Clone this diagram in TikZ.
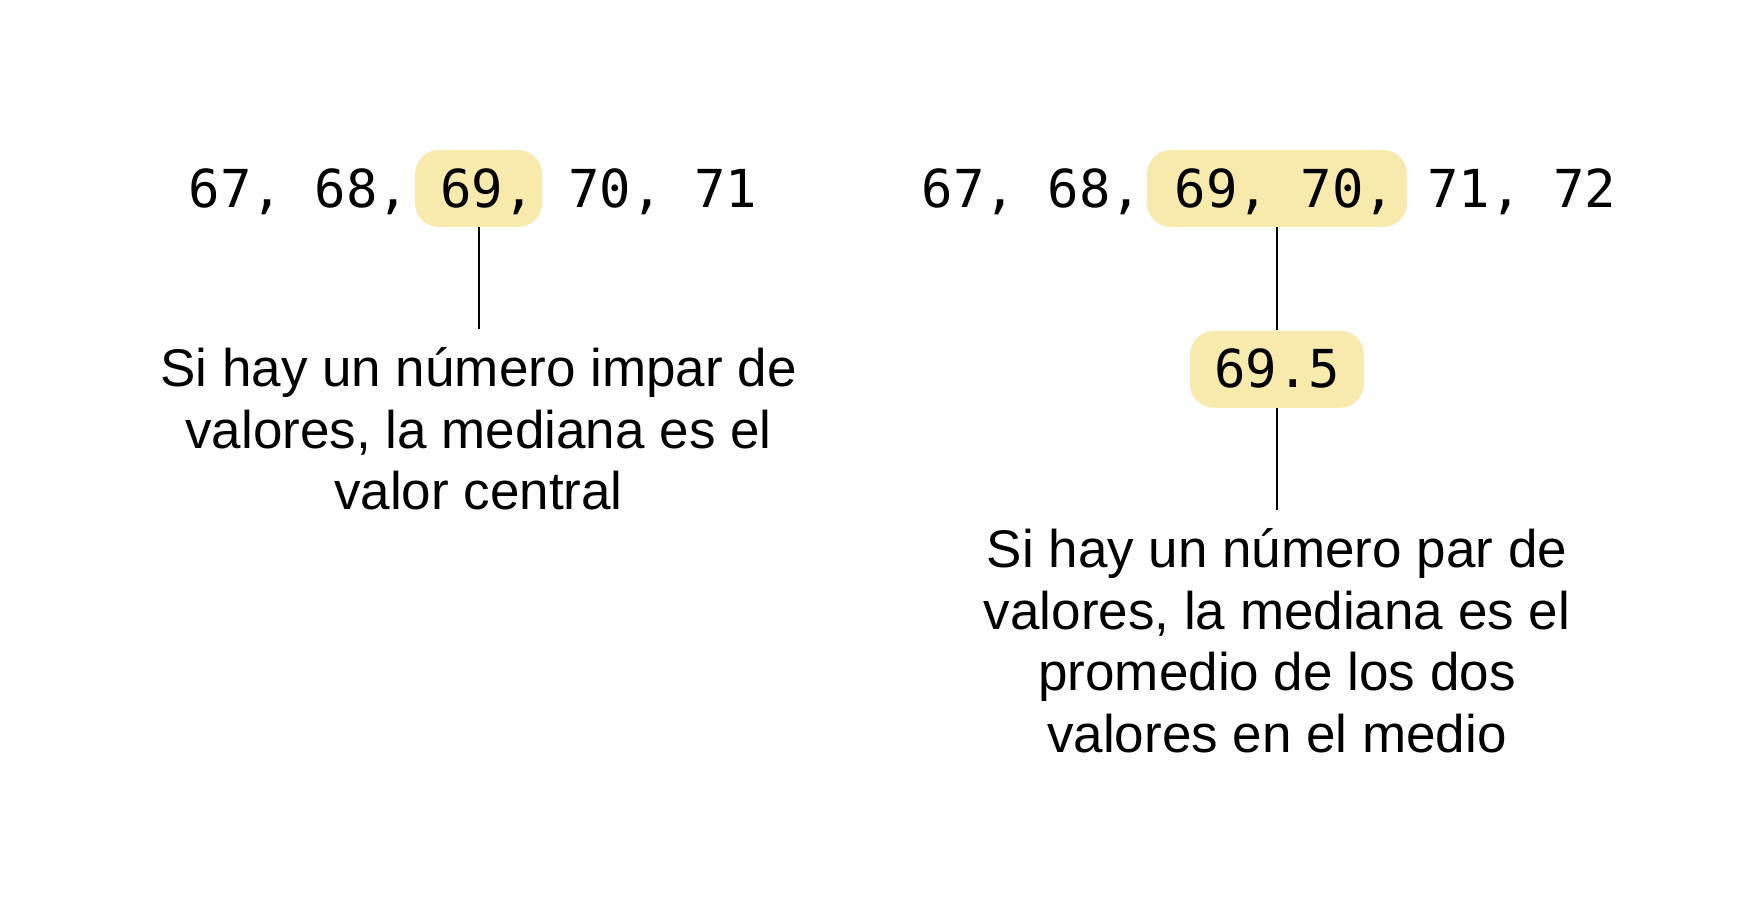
\documentclass[tikz,border=0pt]{standalone}
\usepackage{fontspec}
\setmainfont{Liberation Sans}
\newfontfamily\numfont{DejaVu Sans Mono}
\usepackage{tikz}
\usetikzlibrary{positioning}
\definecolor{medianyellow}{RGB}{248,234,172}
\tikzset{
  stem/.style={black, line width=1pt},
  nums/.style={inner sep=0pt, font=\numfont\fontsize{26.15}{31}\selectfont},
  pick/.style={nums, fill=medianyellow, rounded corners=12pt,
               text height=28.5pt, text depth=10pt},
  note/.style={inner xsep=0pt, inner ysep=9pt, align=center,
               font=\fontsize{26.5}{30.75}\selectfont},
}

\begin{document}
\begin{tikzpicture}[x=0.5pt,y=-0.5pt]
  \path[use as bounding box] (0,0) rectangle (1758,915);

  % odd number of values
  \node[pick, minimum width=63.5pt, anchor=base] (odd) at (478.5,207) {\hspace*{9pt}69,};
  \node[nums, anchor=base east] (oddleft) at ([xshift=-2.5pt]odd.base west) {67, 68,};
  \node[nums, anchor=base west] (oddright) at ([xshift=12.75pt]odd.base east) {70, 71};
  \node[note, below=51pt of odd] (oddnote)
    {Si hay un número impar de\\valores, la mediana es el\\valor central};
  \draw[stem] (odd.south) -- (oddnote.north);

  % even number of values
  \node[pick, minimum width=130pt, anchor=base] (even) at (1277,207) {\hspace*{8pt}69, 70,};
  \node[nums, anchor=base east] (evenleft) at ([xshift=-2pt]even.base west) {67, 68,};
  \node[nums, anchor=base west] (evenright) at ([xshift=9.75pt]even.base east) {71, 72};
  \node[pick, minimum width=87pt, below=51.5pt of even] (mid) {69.5};
  \node[note, below=51pt of mid] (evennote)
    {Si hay un número par de\\valores, la mediana es el\\promedio de los dos\\valores en el medio};
  \draw[stem] (even.south) -- (mid.north);
  \draw[stem] (mid.south) -- (evennote.north);
\end{tikzpicture}
\end{document}
